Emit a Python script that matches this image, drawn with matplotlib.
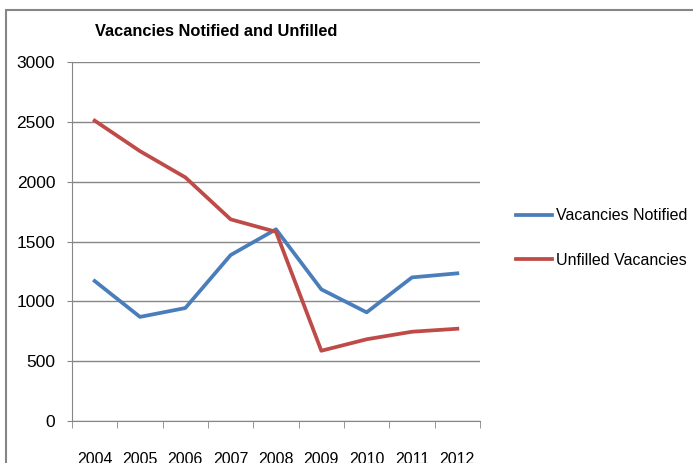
import matplotlib.pyplot as plt
from matplotlib.patches import Rectangle
from matplotlib.ticker import FixedLocator

# Dados do gráfico
anos = ["2004", "2005", "2006", "2007", "2008", "2009", "2010", "2011", "2012"]
vagas_notificadas = [1170, 870, 944, 1387, 1602, 1100, 908, 1200, 1234]
vagas_nao_preenchidas = [2510, 2255, 2036, 1685, 1581, 587, 683, 746, 771]

plt.rcParams["font.family"] = ["Liberation Sans", "DejaVu Sans"]

fig = plt.figure(figsize=(6.93, 4.63), dpi=100)
ax = fig.add_axes([72 / 693, 1 - 421 / 463, 408 / 693, 359 / 463])

# moldura externa do gráfico (cortada à direita e embaixo)
fig.patches.append(Rectangle((6 / 693, -0.1), 1.2, 1 - 10 / 463 + 0.1,
                             transform=fig.transFigure, fill=False,
                             edgecolor="#868686", linewidth=1.5))

x = list(range(1, len(anos) + 1))
ax.plot(x, vagas_notificadas, color="#4A7EBB", linewidth=2.7, label="Vacancies Notified")
ax.plot(x, vagas_nao_preenchidas, color="#BE4B48", linewidth=2.7, label="Unfilled Vacancies")

ax.set_xlim(0.5, len(anos) + 0.5)
ax.set_ylim(0, 3000)
ax.set_yticks(range(0, 3001, 500))
ax.set_xticks(x)
ax.set_xticklabels(anos)
ax.xaxis.set_minor_locator(FixedLocator([i + 0.5 for i in range(0, len(anos) + 1)]))

ax.grid(axis="y", color="#868686", linewidth=1)
ax.set_axisbelow(True)
for lado in ["top", "right"]:
    ax.spines[lado].set_visible(False)
for lado in ["left", "bottom"]:
    ax.spines[lado].set_color("#868686")

ax.tick_params(axis="y", length=3.6, color="#868686", pad=8.5, labelsize=12.5)
ax.tick_params(axis="x", which="major", length=0, pad=22, labelsize=11.5)
ax.tick_params(axis="x", which="minor", length=5, color="#868686")

fig.text(216 / 693, 1 - 32 / 463, "Vacancies Notified and Unfilled",
         ha="center", va="center", fontsize=11.8, fontweight="bold")

fig.legend(loc="center left", bbox_to_anchor=(502 / 693, 1 - 238 / 463),
           frameon=False, fontsize=11.5, handlelength=2.2, handletextpad=0.25,
           labelspacing=1.85)

fig.savefig("out.png", dpi=100)
